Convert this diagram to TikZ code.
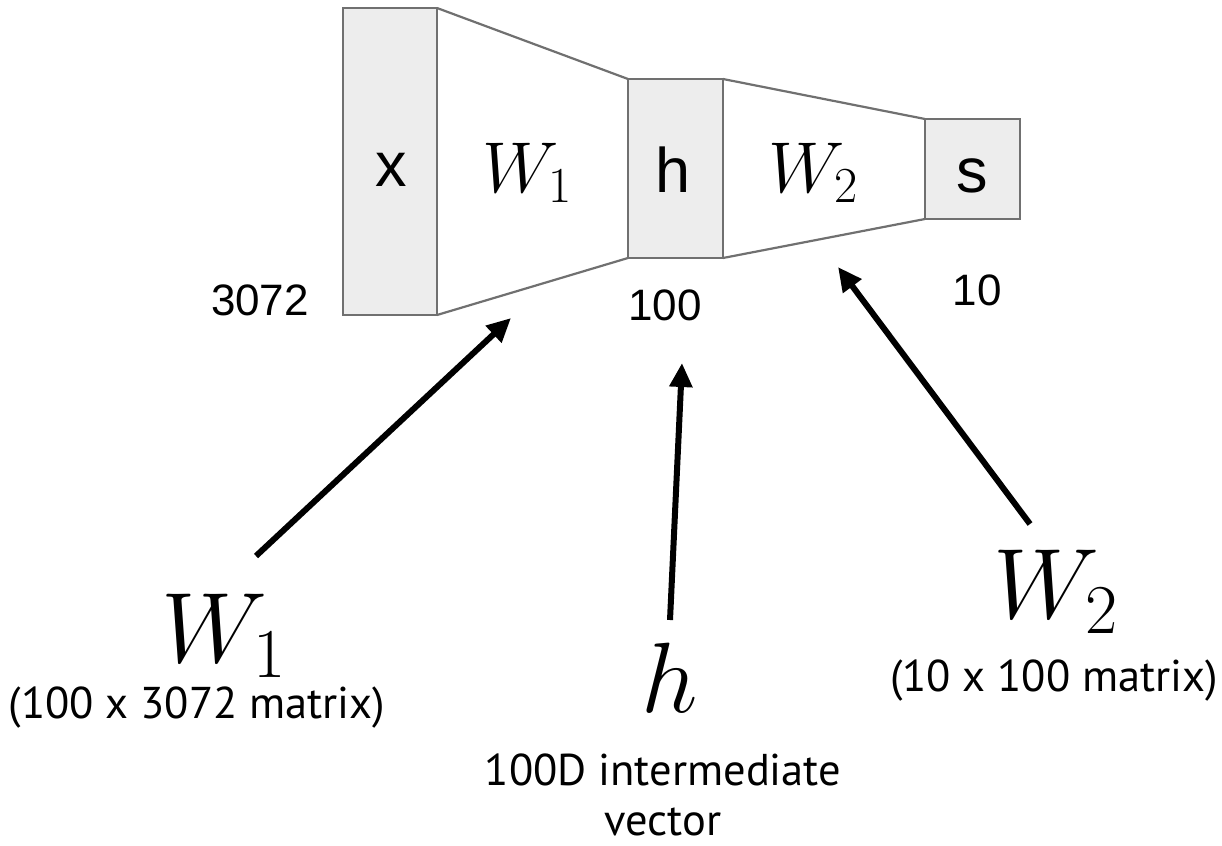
\RequirePackage{fix-cm}
\documentclass[tikz,border=0pt]{standalone}
\usepackage{fontspec}
\setmainfont{Liberation Sans}
\newfontfamily\myr{PT Sans}
\usetikzlibrary{arrows.meta}
\definecolor{boxfill}{HTML}{EDEDED}
\definecolor{boxline}{HTML}{707070}
\begin{document}
\begin{tikzpicture}[x=1pt,y=-1pt,
  layerbox/.style={draw=boxline,fill=boxfill,line width=2.2pt,inner sep=0pt,outer sep=0pt,anchor=north west},
  fanline/.style={draw=boxline,line width=2.2pt},
  boxlabel/.style={inner sep=0pt,anchor=base,font=\fontsize{63}{72}\selectfont},
  dimlabel/.style={inner sep=0pt,anchor=base,font=\fontsize{44}{50}\selectfont},
  toplabel/.style={inner sep=0pt,anchor=base west,font=\fontsize{72}{86}\selectfont},
  biglabel/.style={inner sep=0pt,anchor=base west,font=\fontsize{100}{120}\selectfont},
  notelabel/.style={inner sep=0pt,anchor=base,font=\myr\fontsize{44.5}{50}\selectfont,align=center},
  pointer/.style={line width=6pt,-{Triangle[length=24pt,width=22pt]}}
]
\useasboundingbox (0,0) rectangle (1222,845);
% layer boxes
\node[layerbox,minimum width=94pt,minimum height=307pt] (x) at (343,8) {};
\node[layerbox,minimum width=95pt,minimum height=179pt] (h) at (628,79) {};
\node[layerbox,minimum width=95pt,minimum height=100pt] (s) at (925,119) {};
% fans
\draw[fanline] (x.north east) -- (h.north west);
\draw[fanline] (x.south east) -- (h.south west);
\draw[fanline] (h.north east) -- (s.north west);
\draw[fanline] (h.south east) -- (s.south west);
% box labels
\node[boxlabel] (xl) at (391,186) {x};
\node[boxlabel] (hl) at (673,193) {h};
\node[boxlabel] (sl) at (972.5,193) {s};
\node[toplabel] (w1t) at (482,192) {$W_1$};
\node[toplabel] (w2t) at (768,192) {$W_2$};
% dimension labels
\node[dimlabel] (d1) at (260,315) {3072};
\node[dimlabel] (d2) at (665,320) {100};
\node[dimlabel] (d3) at (977,305) {10};
% bottom labels
\node[biglabel] (w1b) at (161,662) {$W_1$};
\node[notelabel] (n1) at (197,718) {(100 x 3072 matrix)};
\node[biglabel] (hb) at (641,712) {$h$};
\node[notelabel] (n2) at (663,835) {100D intermediate\\vector};
\node[biglabel] (w2b) at (993,618) {$W_2$};
\node[notelabel] (n3) at (1054,691) {(10 x 100 matrix)};
% arrows
\coordinate (a1s) at (256,556);
\coordinate (a1e) at (511,318);
\coordinate (a2s) at (670,620);
\coordinate (a2e) at (682,363);
\coordinate (a3s) at (1030,524);
\coordinate (a3e) at (838,267);
\draw[pointer] (a1s) -- (a1e);
\draw[pointer] (a2s) -- (a2e);
\draw[pointer] (a3s) -- (a3e);
\end{tikzpicture}
\end{document}
